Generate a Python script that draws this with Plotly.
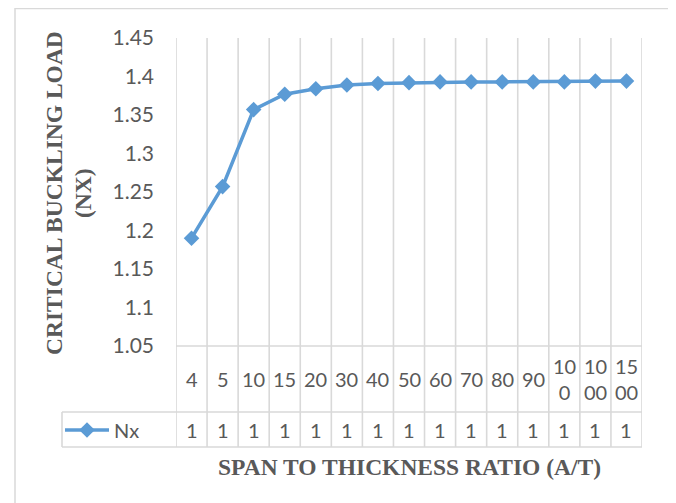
import plotly.graph_objects as go

# ---- data ----
categories = ["4", "5", "10", "15", "20", "30", "40", "50", "60", "70", "80", "90", "100", "1000", "1500"]
category_labels = ["4", "5", "10", "15", "20", "30", "40", "50", "60", "70", "80", "90", "10<br>0", "10<br>00", "15<br>00"]
nx_values = [1.19, 1.257, 1.357, 1.377, 1.384, 1.389, 1.391, 1.392, 1.393, 1.393, 1.393, 1.393, 1.393, 1.394, 1.394]
series_name = "Nx"
y_ticks = [1.05, 1.1, 1.15, 1.2, 1.25, 1.3, 1.35, 1.4, 1.45]
y_tick_text = ["1.05", "1.1", "1.15", "1.2", "1.25", "1.3", "1.35", "1.4", "1.45"]

# ---- layout geometry (screen pixels; page body has an 8px margin) ----
OFF = 8
FW, FH = 676 - OFF, 503 - OFF
PL, PT, PR, PB = 176, 38, 642, 346          # plot area on screen
L, T = PL - OFF, PT - OFF
R, B = FW - (PR - OFF), FH - (PB - OFF)
W, H = PR - PL, PB - PT


def px(X):
    return (X - PL) / W


def py(Y):
    return (PB - Y) / H


GRID = "#d9d9d9"
TXT = "#595959"
BLUE = "#5B9BD5"
SANS = "Lato"
SERIF = "Liberation Serif"

fig = go.Figure()
fig.add_trace(go.Scatter(
    x=categories, y=nx_values, name=series_name, mode="lines+markers",
    line=dict(color=BLUE, width=3.5),
    marker=dict(symbol="diamond", size=12, color=BLUE),
    cliponaxis=False,
))

shapes = []
n = len(categories)
# vertical grid / table lines at category boundaries
for i in range(n + 1):
    shapes.append(dict(type="line", xref="x", yref="paper", x0=i - 0.5, x1=i - 0.5,
                       y0=1, y1=py(447), line=dict(color=GRID, width=1.6), layer="below"))
# horizontal table lines
shapes.append(dict(type="line", xref="paper", yref="paper", x0=0, x1=1, y0=0, y1=0,
                   line=dict(color=GRID, width=1.6), layer="below"))
for Y in (412, 447):
    shapes.append(dict(type="line", xref="paper", yref="paper", x0=px(62), x1=1, y0=py(Y), y1=py(Y),
                       line=dict(color=GRID, width=1.6), layer="below"))
shapes.append(dict(type="line", xref="paper", yref="paper", x0=px(62), x1=px(62), y0=py(412), y1=py(447),
                   line=dict(color=GRID, width=1.6), layer="below"))
# chart border
shapes.append(dict(type="rect", xref="paper", yref="paper", x0=px(15), x1=px(670), y0=py(8.5), y1=py(510),
                   line=dict(color=GRID, width=1.5), layer="below"))

annotations = []
for i, lab in enumerate(category_labels):
    annotations.append(dict(x=i, y=py(379), xref="x", yref="paper", text=lab, showarrow=False,
                            font=dict(family=SANS, size=20, color=TXT), xanchor="center", yanchor="middle"))
    annotations.append(dict(x=i, y=py(430), xref="x", yref="paper", text=f"{nx_values[i]:.0f}", showarrow=False,
                            font=dict(family=SANS, size=20, color=TXT), xanchor="center", yanchor="middle"))

annotations.append(dict(x=0.5, y=py(467), xref="paper", yref="paper", text="<b>SPAN TO THICKNESS RATIO (A/T)</b>",
                        showarrow=False, font=dict(family=SERIF, size=23.5, color=TXT),
                        xanchor="center", yanchor="middle"))
annotations.append(dict(x=px(54), y=py(193), xref="paper", yref="paper", text="<b>CRITICAL BUCKLING LOAD</b>",
                        showarrow=False, textangle=-90, font=dict(family=SERIF, size=23.5, color=TXT),
                        xanchor="center", yanchor="middle"))
annotations.append(dict(x=px(83), y=py(193), xref="paper", yref="paper", text="<b>(NX)</b>",
                        showarrow=False, textangle=-90, font=dict(family=SERIF, size=23.5, color=TXT),
                        xanchor="center", yanchor="middle"))

fig.update_layout(
    width=FW, height=FH,
    margin=dict(l=L, r=R, t=T, b=B, pad=0),
    paper_bgcolor="white", plot_bgcolor="white",
    font=dict(family=SANS, size=20, color=TXT),
    showlegend=True,
    legend=dict(x=px(60), y=py(430), xanchor="left", yanchor="middle", orientation="h",
                bgcolor="rgba(0,0,0,0)", font=dict(family=SANS, size=20, color=TXT), itemwidth=44),
    xaxis=dict(type="category", range=[-0.5, n - 0.5], showgrid=False, showticklabels=False,
               showline=False, zeroline=False, ticks=""),
    yaxis=dict(range=[1.05, 1.45], tickvals=y_ticks, ticktext=y_tick_text, showgrid=False,
               showline=False, zeroline=False, ticks="", ticklabelstandoff=21,
               tickfont=dict(family=SANS, size=21, color=TXT)),
    shapes=shapes,
    annotations=annotations,
)

fig.write_html("out.html")
